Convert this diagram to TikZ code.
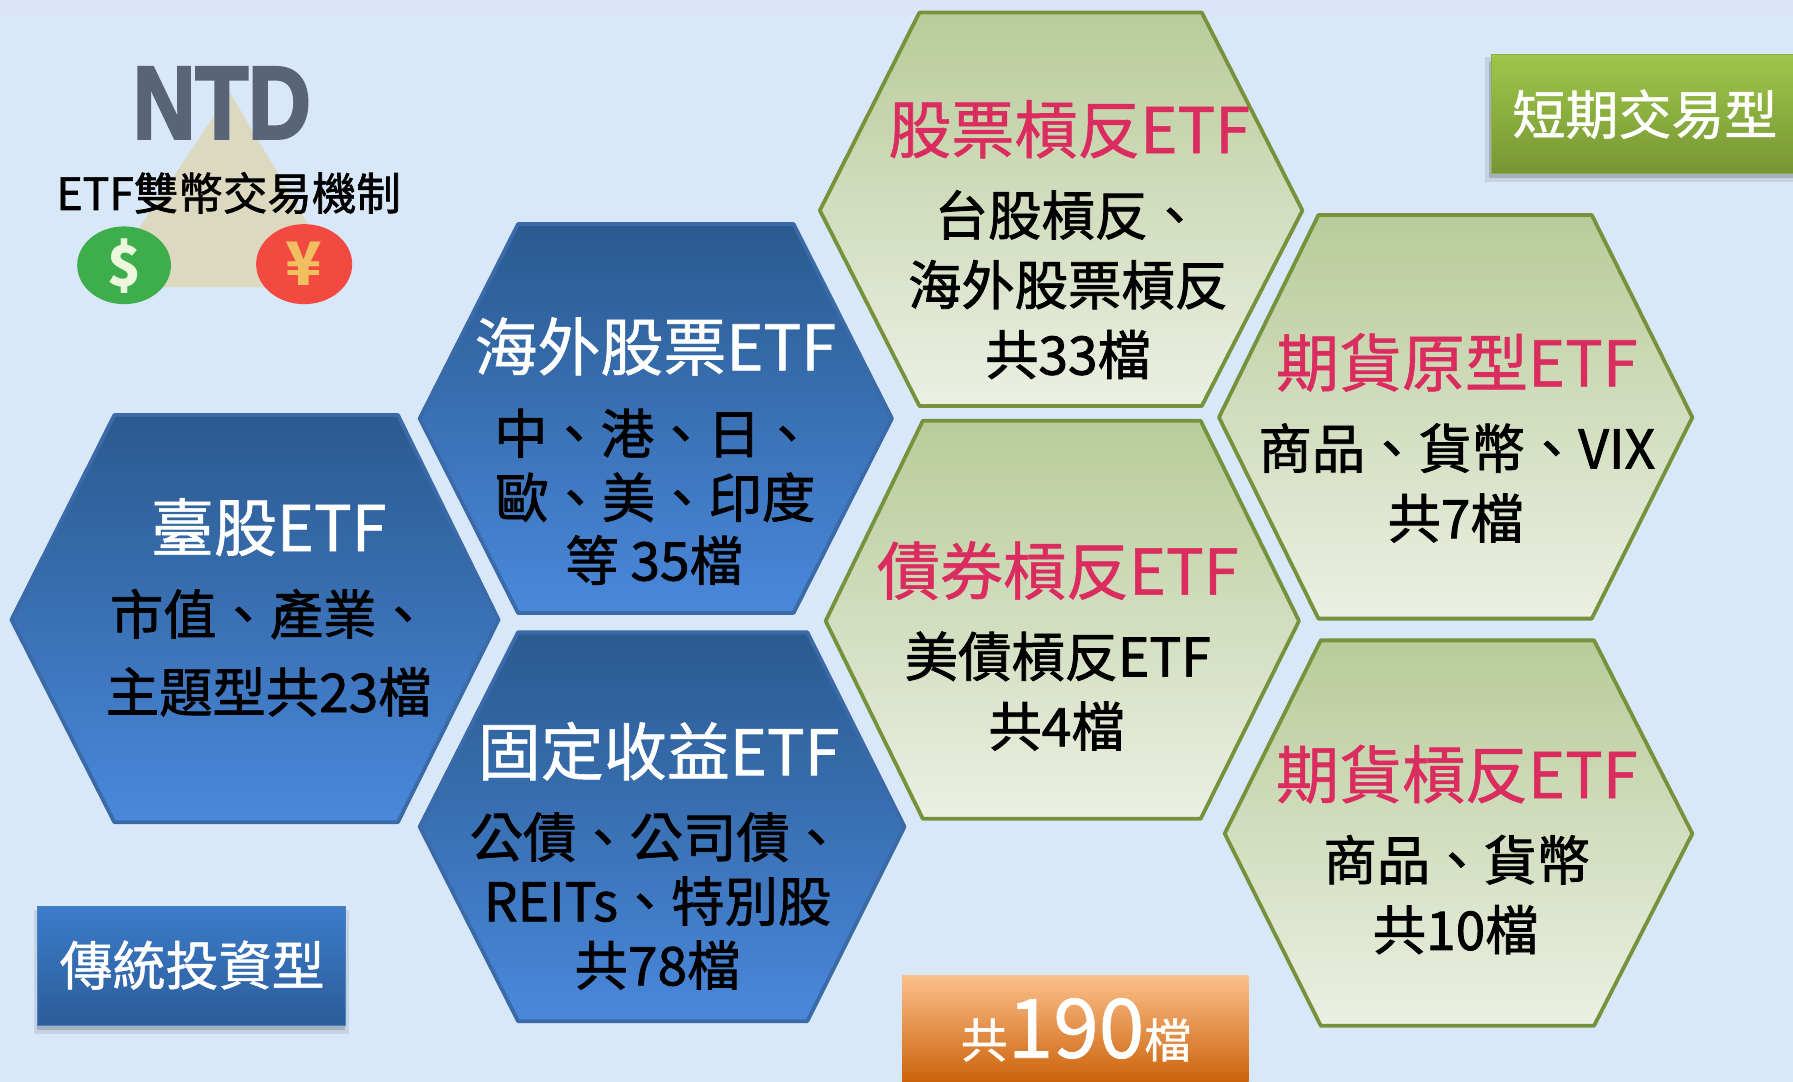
\documentclass[tikz,border=0pt]{standalone}
\usepackage{fontspec}
\setmainfont{Noto Sans CJK TC}
\newfontface\medf{Noto Sans CJK TC}[FakeBold=1.5]
\newfontface\titlef{Noto Sans CJK TC}[FakeBold=0.9]
\newfontfamily\logof{Liberation Sans}[BoldFeatures={FakeBold=3}]
\definecolor{bgc}{HTML}{D8E8F8}
\definecolor{stripc}{HTML}{DCE5F7}
\definecolor{bluetop}{HTML}{2A5A8F}
\definecolor{bluebot}{HTML}{4A88DB}
\definecolor{bluedge}{HTML}{3A6BA8}
\definecolor{greentop}{HTML}{B9CB9A}
\definecolor{greenbot}{HTML}{EBF0E3}
\definecolor{greenedge}{HTML}{76923C}
\definecolor{pinkc}{HTML}{DB2C5F}
\definecolor{logoc}{HTML}{5A6478}
\definecolor{triac}{HTML}{DDD8C0}
\definecolor{coing}{HTML}{3EAE4C}
\definecolor{coinr}{HTML}{F24A40}
\definecolor{coingt}{HTML}{EBF8DC}
\definecolor{coinrt}{HTML}{F0C060}
\definecolor{shadowa}{HTML}{C5D2E2}
\definecolor{shadowb}{HTML}{A4AFC0}
\definecolor{boxbe}{HTML}{4A80C4}
\definecolor{boxbt}{HTML}{3B7CC9}
\definecolor{boxbb}{HTML}{2D5C9A}
\definecolor{boxge}{HTML}{8CAF46}
\definecolor{boxgt}{HTML}{9EC64A}
\definecolor{boxgb}{HTML}{769634}
\definecolor{oranget}{HTML}{FBC08C}
\definecolor{orangem}{HTML}{F5964B}
\definecolor{orangeb}{HTML}{CC6209}
\tikzset{
  bluehex/.style={draw=bluedge,line width=3.8pt,line join=round,top color=bluetop,bottom color=bluebot},
  greenhex/.style={draw=greenedge,line width=3.8pt,line join=round,top color=greentop,bottom color=greenbot},
  lab/.style={inner sep=0pt,align=center},
  whitetitle/.style={lab,text=white,text height=50.4pt,text depth=2.5pt,font=\fontsize{63}{70}\titlef},
  blackbody/.style={lab,text=black,text height=42.6pt,text depth=2.2pt,font=\fontsize{53.3}{60}\medf},
  pinktitle/.style={lab,text=pinkc,text height=50.4pt,text depth=2.5pt,font=\fontsize{63}{70}\titlef},
  boxlabel/.style={lab,text=white,text height=42.4pt,text depth=2.1pt,font=\fontsize{53}{60}\titlef},
}
\begin{document}
\begin{tikzpicture}[x=1.1435pt,y=-1.1435pt]
\useasboundingbox (0,0) rectangle (1568,946.2);
\fill[bgc] (0,0) rectangle (1568,946.2);
\fill[stripc] (0,0) rectangle (1568,13);

% logo
\fill[triac] (201,81) -- (302,251) -- (87,251) -- cycle;
\node[inner sep=0pt,text=logoc,font=\fontsize{103}{110}\logof\bfseries,anchor=center,xscale=.84] (ntd) at (194,90) {NTD};
\node[lab,text height=35.2pt,text depth=1.8pt,font=\fontsize{44.5}{50}\medf] (dual) at (200,169) {ETF雙幣交易機制};
\fill[coing] (108.5,232) ellipse (41 and 34);
\fill[coinr] (266,231) ellipse (42 and 35);
\node[lab,text=coingt,text height=44pt,text depth=2pt,font=\fontsize{56}{60}\selectfont\bfseries] (dollar) at (108.5,232) {\$};
\node[lab,text=coinrt,text height=44pt,text depth=2pt,font=\fontsize{60}{60}\selectfont\bfseries] (yen) at (266,231) {¥};

% hexagons
\draw[bluehex] (10,542) -- (100,363) -- (348,363) -- (436,542) -- (348,719) -- (100,719) -- cycle;
\draw[bluehex] (367,366) -- (453,196) -- (694,196) -- (780,366) -- (694,536) -- (453,536) -- cycle;
\draw[bluehex] (367,723) -- (453,553) -- (706,553) -- (791,723) -- (706,893) -- (453,893) -- cycle;
\draw[greenhex] (717,184) -- (804,11) -- (1051,11) -- (1139,184) -- (1051,355) -- (804,355) -- cycle;
\draw[greenhex] (722,543) -- (807,368) -- (1050,368) -- (1136,543) -- (1050,716) -- (807,716) -- cycle;
\draw[greenhex] (1066,365) -- (1153,188) -- (1392,188) -- (1480,365) -- (1392,541) -- (1153,541) -- cycle;
\draw[greenhex] (1071,729) -- (1155,560) -- (1394,560) -- (1480,729) -- (1394,897) -- (1155,897) -- cycle;

% hexagon texts
\node[whitetitle] (a1) at (235,461) {臺股ETF};
\node[blackbody] (a2) at (236,537) {市值、產業、};
\node[blackbody] (a3) at (235,605) {主題型共23檔};
\node[whitetitle] (b1) at (573,303) {海外股票ETF};
\node[blackbody] (b2) at (572,379) {中、港、日、};
\node[blackbody] (b3) at (573,435) {歐、美、印度};
\node[blackbody] (b4) at (572,490) {等 35檔};
\node[whitetitle] (c1) at (576,657) {固定收益ETF};
\node[blackbody] (c2) at (574,732) {公債、公司債、};
\node[blackbody] (c3) at (575,788) {REITs、特別股};
\node[blackbody] (c4) at (575,844) {共78檔};
\node[pinktitle] (d1) at (935,113) {股票槓反ETF};
\node[blackbody] (d2) at (934,188) {台股槓反、};
\node[blackbody] (d3) at (934,249) {海外股票槓反};
\node[blackbody] (d4) at (934,310) {共33檔};
\node[pinktitle] (e1) at (925,499) {債券槓反ETF};
\node[blackbody] (e2) at (925,574) {美債槓反ETF};
\node[blackbody] (e3) at (924,635) {共4檔};
\node[pinktitle] (f1) at (1274,317) {期貨原型ETF};
\node[blackbody] (f2) at (1274,392) {商品、貨幣、VIX};
\node[blackbody] (f3) at (1273,453) {共7檔};
\node[pinktitle] (g1) at (1274,677) {期貨槓反ETF};
\node[blackbody] (g2) at (1274,752) {商品、貨幣};
\node[blackbody] (g3) at (1273,813) {共10檔};

% label boxes
\fill[shadowa] (30,796) rectangle (305,904);
\fill[shadowb] (32,800) rectangle (302,901);
\draw[draw=boxbe,line width=1pt,top color=boxbt,bottom color=boxbb] (33,793) rectangle (302,897);
\node[boxlabel] (trad) at (168,844) {傳統投資型};

\fill[shadowa] (1299,50) rectangle (1568,159);
\fill[shadowb] (1302,54) rectangle (1568,156);
\draw[draw=boxge,line width=1pt,top color=boxgt,bottom color=boxgb] (1304,48) rectangle (1570,152);
\node[boxlabel] (short) at (1438.5,100) {短期交易型};

\shade[top color=oranget,middle color=orangem,bottom color=orangeb] (789,853) rectangle (1092,946.2);
\node[inner sep=0pt,text=white,anchor=base,font=\fontsize{47}{52}\titlef] (total) at (941,925) {共{\fontsize{82}{90}\titlef 190}檔};
\end{tikzpicture}
\end{document}
